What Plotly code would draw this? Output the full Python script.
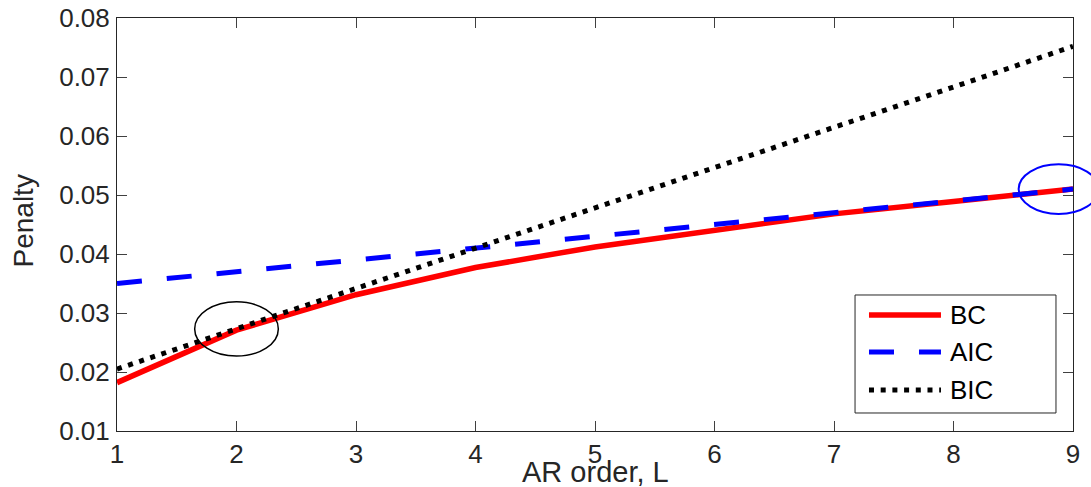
import plotly.graph_objects as go

# ---- data ----
ar_order = [1, 2, 3, 4, 5, 6, 7, 8, 9]
bc_penalty = [0.0182, 0.0271, 0.0331, 0.0377, 0.0412, 0.0441, 0.0468, 0.0489, 0.0510]
aic_penalty = [0.0350, 0.0370, 0.0390, 0.0410, 0.0430, 0.0450, 0.0470, 0.0490, 0.0510]
bic_penalty = [0.0205, 0.0273, 0.0342, 0.0410, 0.0478, 0.0547, 0.0615, 0.0683, 0.0752]
series_names = ["BC", "AIC", "BIC"]
y_ticks = [0.01, 0.02, 0.03, 0.04, 0.05, 0.06, 0.07, 0.08]
x_ticks = [1, 2, 3, 4, 5, 6, 7, 8, 9]
x_title = "AR order, L"
y_title = "Penalty"

# highlighted points (centre x, centre y, half-width in x, half-height in y)
mark_black = (2.0, 0.0273, 0.35, 0.0046)
mark_blue = (8.88, 0.0510, 0.335, 0.0042)

X_RANGE = [1, 9]
Y_RANGE = [0.01, 0.08]

FONT = "Liberation Sans, Arial, Helvetica, sans-serif"
TEXT = "#262626"
styles = [
    dict(color="#ff0000", width=5.5, dash="solid"),
    dict(color="#0000ff", width=5, dash="25px,25px"),
    dict(color="#000000", width=5, dash="5px,6.7px"),
]

fig = go.Figure()
for name, vals, st in zip(series_names, [bc_penalty, aic_penalty, bic_penalty], styles):
    fig.add_trace(go.Scatter(x=ar_order, y=vals, mode="lines", name=name,
                             line=st, showlegend=False))


def to_dom(v, rng):
    return (v - rng[0]) / (rng[1] - rng[0])


for (cx, cy, hx, hy), col, w in [(mark_black, "#000000", 1.5), (mark_blue, "#0000ff", 2)]:
    fig.add_shape(type="circle", xref="x domain", yref="y domain",
                  x0=to_dom(cx - hx, X_RANGE), x1=to_dom(cx + hx, X_RANGE),
                  y0=to_dom(cy - hy, Y_RANGE), y1=to_dom(cy + hy, Y_RANGE),
                  line=dict(color=col, width=w))

# ---- legend box (drawn manually to get long line samples) ----
lx0, lx1, ly0, ly1 = 0.772, 0.9822, 0.0436, 0.3293
fig.add_shape(type="rect", xref="x domain", yref="y domain",
              x0=lx0, x1=lx1, y0=ly0, y1=ly1,
              line=dict(color="#262626", width=1), fillcolor="white", layer="above")
rows = [0.2809, 0.1913, 0.0993]
for name, st, ry in zip(series_names, styles, rows):
    fig.add_shape(type="line", xref="x domain", yref="y domain",
                  x0=0.7866, x1=0.8619, y0=ry, y1=ry,
                  line=dict(color=st["color"], width=st["width"], dash=st["dash"]),
                  layer="above")
    fig.add_annotation(xref="x domain", yref="y domain", x=0.8692, y=ry,
                       text=name, showarrow=False, xanchor="left", yanchor="middle",
                       font=dict(family=FONT, size=26, color="#000000"))

# ---- axis titles ----
fig.add_annotation(xref="x domain", yref="y domain", x=0.5, y=-0.0995,
                   text=x_title, showarrow=False, xanchor="center", yanchor="middle",
                   font=dict(family=FONT, size=29, color=TEXT))
fig.add_annotation(xref="x domain", yref="y domain", x=-0.0983, y=0.5073,
                   text=y_title, showarrow=False, textangle=-90,
                   xanchor="center", yanchor="middle",
                   font=dict(family=FONT, size=28, color=TEXT))

axis_common = dict(
    showline=True, linecolor="#262626", linewidth=1, mirror="ticks",
    ticks="inside", ticklen=10, tickcolor="#404040", tickwidth=1,
    showgrid=False, zeroline=False, automargin=False,
    tickfont=dict(family=FONT, size=26, color=TEXT),
)

fig.update_layout(
    width=1091, height=487,
    margin=dict(l=117, r=18, t=18, b=56),
    paper_bgcolor="white", plot_bgcolor="white",
    xaxis=dict(range=X_RANGE, tickvals=x_ticks, ticktext=[str(v) for v in x_ticks],
               ticklabelstandoff=0, **axis_common),
    yaxis=dict(range=Y_RANGE, tickvals=y_ticks, ticktext=[f"{v:.2f}" for v in y_ticks],
               ticklabelstandoff=1, **axis_common),
)

fig.write_html("out.html", config={"displayModeBar": False},
               post_script="document.body.style.margin='0';document.body.style.overflow='hidden';")
